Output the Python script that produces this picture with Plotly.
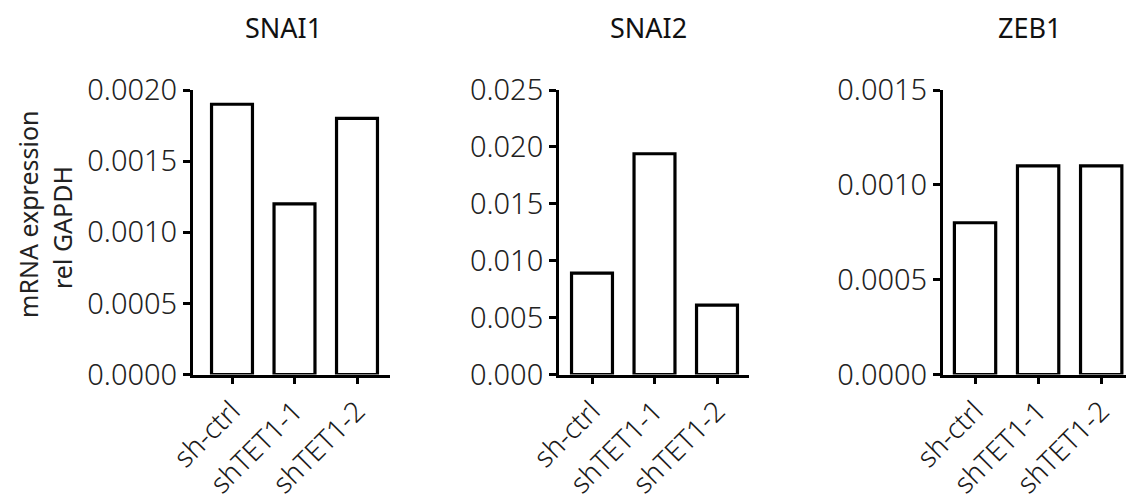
import plotly.graph_objects as go

W, H = 1134, 503
OFF = 8  # page body margin of the rendered HTML, compensated below

categories = ["sh-ctrl", "shTET1-1", "shTET1-2"]
genes = ["SNAI1", "SNAI2", "ZEB1"]
snai1 = [0.0019, 0.0012, 0.0018]
snai2 = [0.0089, 0.0194, 0.0061]
zeb1 = [0.0008, 0.0011, 0.0011]
values = [snai1, snai2, zeb1]

y_max = [0.0020, 0.025, 0.0015]
y_dtick = [0.0005, 0.005, 0.0005]
y_fmt = [".4f", ".3f", ".4f"]

# pixel layout of each panel (left, right) and common top/bottom
x_px = [(193, 390), (559, 749), (943, 1134)]
x_rng = [(-0.624, 2.528), (-0.528, 2.512), (-0.508, 2.52)]
top_px, bot_px = 90, 374.5
title_x = [283, 648, 1029]


def px(x):
    return (x - OFF) / W


def py(y):
    return 1 - (y - OFF) / H


fig = go.Figure()
for i in range(3):
    xa = "x" if i == 0 else f"x{i+1}"
    ya = "y" if i == 0 else f"y{i+1}"
    fig.add_trace(go.Bar(
        x=categories, y=values[i], xaxis=xa, yaxis=ya,
        width=0.655,
        marker=dict(color="white", line=dict(color="black", width=3.2)),
        showlegend=False,
    ))
    xkey = "xaxis" if i == 0 else f"xaxis{i+1}"
    ykey = "yaxis" if i == 0 else f"yaxis{i+1}"
    fig.layout[xkey] = dict(
        domain=[px(x_px[i][0]), min(1.0, px(x_px[i][1]))],
        anchor=ya, type="category", range=list(x_rng[i]),
        showline=True, linecolor="black", linewidth=3,
        ticks="outside", ticklen=6, tickwidth=3, tickcolor="black",
        tickangle=-45, showgrid=False, zeroline=False,
        tickfont=dict(family="Noto Sans", size=28, color="#1a1a1a", weight=300),
        automargin=False, fixedrange=True,
    )
    fig.layout[ykey] = dict(
        domain=[py(bot_px), py(top_px)],
        anchor=xa, range=[0, y_max[i]],
        tickmode="linear", tick0=0, dtick=y_dtick[i], tickformat=y_fmt[i],
        showline=True, linecolor="black", linewidth=3,
        ticks="outside", ticklen=7, tickwidth=3, tickcolor="black",
        showgrid=False, zeroline=False,
        tickfont=dict(family="Noto Sans", size=29, color="#222", weight=300),
        automargin=False, fixedrange=True,
    )
    fig.add_annotation(
        text=genes[i], xref="paper", yref="paper",
        x=px(title_x[i]), y=py(27), xanchor="center", yanchor="middle",
        showarrow=False, font=dict(family="Noto Sans", size=27, color="#111"),
    )

fig.add_annotation(
    text="mRNA expression", xref="paper", yref="paper",
    x=px(28), y=py(214), xanchor="center", yanchor="middle",
    textangle=-90, showarrow=False,
    font=dict(family="Noto Sans", size=25, color="#222"),
)
fig.add_annotation(
    text="rel GAPDH", xref="paper", yref="paper",
    x=px(62), y=py(228), xanchor="center", yanchor="middle",
    textangle=-90, showarrow=False,
    font=dict(family="Noto Sans", size=25, color="#222"),
)

fig.update_layout(
    width=W, height=H,
    margin=dict(l=0, r=0, t=0, b=0, autoexpand=False),
    paper_bgcolor="white", plot_bgcolor="white",
    bargap=0.3,
)

fig.write_html("out.html")
